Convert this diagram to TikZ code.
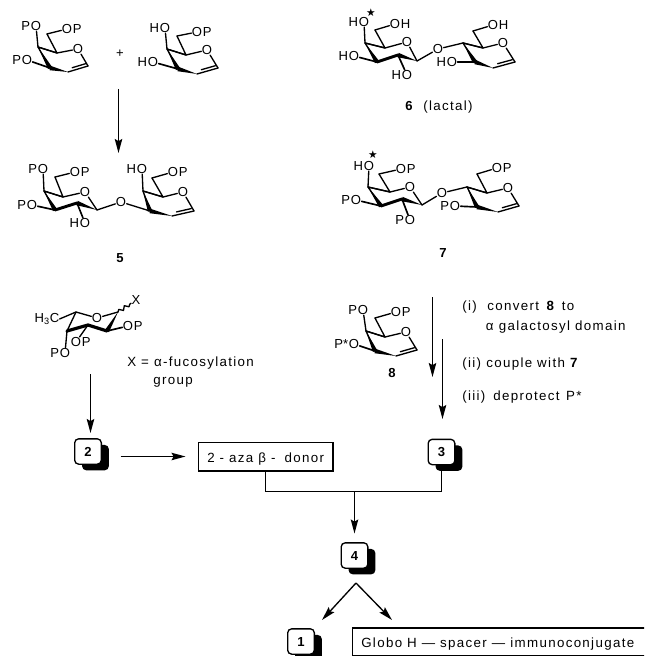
\documentclass[tikz,border=0pt]{standalone}
\usepackage{fontspec}
\setmainfont{Liberation Sans}
\newfontfamily\lsfont[LetterSpace=10]{Liberation Sans}
\newfontfamily\djfont{DejaVu Sans}
\usetikzlibrary{calc,arrows.meta,shadows,decorations.pathmorphing}
\tikzset{
  bond/.style={line width=1pt,line cap=round,line join=round},
  atom/.style={inner sep=0.2pt,font=\fontsize{9.8}{11}\selectfont},
  atomtxt/.style={inner sep=0pt,font=\fontsize{9.8}{11}\selectfont},
  txt/.style={inner sep=0pt,anchor=base west,font=\fontsize{10}{11}\lsfont},
  num/.style={inner sep=0pt,font=\fontsize{9.8}{11}\selectfont\bfseries},
  arr/.style={line width=1pt,-{Stealth[length=10.5pt,width=5.6pt,inset=1.6pt]}},
  line/.style={line width=1pt},
  numbox/.style={draw,fill=white,line width=1pt,rounded corners=3pt,minimum width=20pt,minimum height=19pt,
    inner sep=0pt,font=\fontsize{9.8}{11}\selectfont\bfseries,
    drop shadow={shadow xshift=5.6pt,shadow yshift=-4.6pt,opacity=1,fill=black}},
  box/.style={draw,line width=1pt,inner sep=0pt,anchor=center},
  star/.style={inner sep=0pt,font=\fontsize{8}{8}\djfont}
}
\newcommand{\ringcoords}[8]{%
  \coordinate (#1c4) at (#2);\coordinate (#1c5) at (#3);
  \node[atom] (#1o) at (#4) {O};
  \coordinate (#1c1) at (#5);\coordinate (#1c2) at (#6);
  \coordinate (#1c3) at (#7);\coordinate (#1c6) at (#8);
  \draw[bond] (#1c3) -- (#1c4) -- (#1c5) -- (#1o) -- (#1c1);
  \draw[bond] (#1c4) -- (#1c5) -- (#1c6);
}
\newcommand{\wdg}[2]{\fill[line join=round] (#1) -- ($(#2)!1.7pt!90:(#1)$) -- ($(#2)!1.7pt!-90:(#1)$) -- cycle;}
% name prefix, c4,c5,o,c1,c2,c3,c6 : dihydropyran ring with a double bond
\newcommand{\glycal}[8]{%
  \ringcoords{#1}{#2}{#3}{#4}{#5}{#6}{#7}{#8}
  \wdg{#1c4}{#1c3}\wdg{#1c2}{#1c3}
  \draw[bond] (#1c2) -- (#1c1);
  \draw[bond] ($(#1c2)!.18!(#1c1)+(0.6,-3.2)$) -- ($(#1c2)!.85!(#1c1)+(0.6,-3.2)$);
}
% saturated ring
\newcommand{\pyran}[8]{%
  \ringcoords{#1}{#2}{#3}{#4}{#5}{#6}{#7}{#8}
  \wdg{#1c4}{#1c3}\wdg{#1c1}{#1c2}
  \draw[line width=2.2pt,line cap=round] (#1c3) -- (#1c2);
}
% O atom at a position, with text on its left and on its right
\newcommand{\oat}[4]{%
  \node[atom] (#1) at (#2) {O};
  \node[atomtxt,anchor=base east] at (#1.base west) {#3};
  \node[atomtxt,anchor=base west] at (#1.base east) {#4};
}
\begin{document}
\begin{tikzpicture}[x=0.75pt,y=-0.75pt]
\useasboundingbox (0,0) rectangle (644,656);
\clip (0,0) rectangle (644,656);

% ---- molecule top left 1
\glycal{a}{38,47}{57,53}{78,49}{88,66}{68,72}{50,68}{47,34}
\oat{a1}{36,26}{P}{}\oat{a2}{27,60}{P}{}\oat{a3}{67,29}{}{P}
\draw[bond] (ac4)--(a1); \draw[bond,line width=1.25pt] (ac3)--(a2); \draw[bond] (ac6)--(a3);
\node[atom] (plus) at (120,54) {+};
% ---- molecule top left 2
\glycal{b}{167,49}{186,55}{207,50}{218,68}{197,74}{178,69}{177,36}
\oat{b1}{165,28}{H}{}\oat{b2}{153,62}{H}{}\oat{b3}{197,32}{}{P}
\draw[bond] (bc4)--(b1); \draw[bond,line width=1.25pt] (bc3)--(b2); \draw[bond] (bc6)--(b3);

\coordinate (s1) at (118.5,89); \coordinate (e1) at (118.5,153);
\draw[arr] (s1) -- (e1);

% ---- 5
\pyran{c}{44,191}{63,197}{85,192}{97,210}{77,203}{55,210}{55,177}
\oat{c1}{43,169}{P}{}\oat{c2}{32,205}{P}{}\oat{c3}{75,172}{}{P}\oat{c4}{85,223}{H}{}
\draw[bond] (cc4)--(c1); \draw[bond,line width=1.25pt] (cc3)--(c2); \draw[bond] (cc6)--(c3); \draw[bond,line width=1.25pt] (cc2)--(c4);
\node[atom] (cb) at (121,202) {O};
\glycal{d}{143,191}{163,197}{183,192}{194,211}{172,216}{150,211}{152,178}
\oat{d1}{142,169}{H}{}\oat{d3}{173,172}{}{P}
\draw[bond] (dc4)--(d1); \draw[bond] (dc6)--(d3);
\draw[bond] (cc1)--(cb); \draw[bond] (cb)--(dc3);
\node[num] (l5) at (120,258) {5};

% ---- 6
\pyran{e}{365,43}{385,48}{407,42}{417,61}{398,55}{377,62}{375,30}
\oat{e1}{364,22}{H}{}\oat{e2}{354,56}{H}{}\oat{e3}{395,24}{}{H}\oat{e4}{407,75}{H}{}
\node[star] (es) at (371,13) {★};
\draw[bond] (ec4)--(e1); \draw[bond,line width=1.25pt] (ec3)--(e2); \draw[bond] (ec6)--(e3); \draw[bond,line width=1.25pt] (ec2)--(e4);
\node[atom] (eb) at (438,49) {O};
\glycal{f}{463,43}{483,48}{503,43}{515,62}{493,68}{475,62}{473,31}
\oat{f2}{452,62}{H}{}\oat{f3}{493,25}{}{H}
\draw[bond,line width=1.25pt] (fc3)--(f2); \draw[bond] (fc6)--(f3);
\draw[bond] (ec1)--(eb); \draw[bond] (eb)--(fc4);
\node[txt,font=\fontsize{9.8}{11}\selectfont\bfseries] (l6) at (405,111) {6};
\node[txt] (l6b) at (423,111) {(lactal)};

% ---- 7
\pyran{g}{368,187}{390,192}{410,187}{422,205}{402,199}{381,206}{379,174}
\oat{g1}{369,166}{H}{}\oat{g2}{356,200}{P}{}\oat{g3}{401,169}{}{P}\oat{g4}{410,220}{P}{}
\node[star] (gs) at (373,155) {★};
\draw[bond] (gc4)--(g1); \draw[bond,line width=1.25pt] (gc3)--(g2); \draw[bond] (gc6)--(g3); \draw[bond,line width=1.25pt] (gc2)--(g4);
\node[atom] (gb) at (442,193) {O};
\glycal{h}{467,187}{487,193}{508,188}{519,206}{498,212}{477,207}{477,174}
\oat{h2}{455,206}{P}{}\oat{h3}{497,168}{}{P}
\draw[bond,line width=1.25pt] (hc3)--(h2); \draw[bond] (hc6)--(h3);
\draw[bond] (gc1)--(gb); \draw[bond] (gb)--(hc4);
\node[num] (l7) at (443,253) {7};

% ---- 8
\glycal{i}{366,331}{385,337}{406,332}{417,350}{396,356}{375,351}{375,318}
\oat{i1}{363,310}{P}{}\oat{i2}{354,344}{P*}{}\oat{i3}{396,312}{}{P}
\draw[bond] (ic4)--(i1); \draw[bond,line width=1.25pt] (ic3)--(i2); \draw[bond] (ic6)--(i3);
\node[num] (l8) at (392,373) {8};

% ---- fucose
\coordinate (jc5) at (76,312); \node[atom] (jo) at (97,318) {O};
\coordinate (jc1) at (118,312); \coordinate (jc2) at (107,331);
\coordinate (jc3) at (88,325); \coordinate (jc4) at (67,331);
\node[atomtxt] (jme) at (47,319) {H\textsubscript{3}C};
\draw[bond] (jme.east)--(jc5)--(jo)--(jc1); \draw[bond] (jc5)--(jc4);
\wdg{jc1}{jc2}
\draw[line width=2.4pt,line cap=round] (jc4)--(jc3)--(jc2);
\oat{j1}{128,326}{}{P}\oat{j2}{76,342}{}{P}\oat{j3}{65,353}{P}{}
\draw[bond,line width=1.25pt] (jc2)--(j1); \draw[bond] (jc3)--(j2); \draw[bond] (jc4)--(j3);
\node[atom] (jx) at (136,300) {X};
\draw[bond,decorate,decoration={snake,amplitude=1.3pt,segment length=5pt}] (jc1)--(jx);
\node[txt] (tx) at (127,366) {X = α-fucosylation};
\node[txt] (tg) at (153,384) {group};

% ---- lower scheme
\coordinate (s2) at (90.5,374); \coordinate (e2) at (90.5,433);
\draw[arr] (s2) -- (e2);
\coordinate (s3) at (432.5,297); \coordinate (e3) at (432.5,377);
\draw[arr] (s3) -- (e3);
\coordinate (s4) at (442.5,339); \coordinate (e4) at (442.5,419);
\draw[arr] (s4) -- (e4);

\node[txt] (r1a) at (462,310) {(i)};
\node[txt] (r1b) at (487,310) {convert\hspace{2pt} {\bfseries 8}\hspace{2pt} to};
\node[txt] (r1c) at (485.5,330) {α\hspace{4pt}galactosyl domain};
\node[txt] (r2a) at (462,367) {(ii)};
\node[txt] (r2b) at (486,367) {couple with {\bfseries 7}};
\node[txt] (r3a) at (462,400) {(iii)};
\node[txt] (r3b) at (493,400) {deprotect\hspace{5pt}P*};

\node[box,minimum width=101pt,minimum height=21.5pt] (aza) at (265.5,456.5) {};
\node[txt] (azat) at (207,462) {2 - aza β -\hspace{3pt} donor};

\coordinate (bj) at (354.5,491.5);
\node[numbox] (n3) at (441.5,452) {3};
\draw[line] (aza.south) |- (bj) -| (n3.south);
\node[numbox] (n2) at (88,451.5) {2};
\draw[arr,shorten <=14pt,shorten >=9pt] (n2.east |- aza.west) -- (aza.west);
\node[numbox] (n4) at (354.5,555.5) {4};
\draw[arr,shorten >=6.5pt] (bj) -- (n4.north);

\coordinate (sp) at (356,583); \coordinate (t1) at (322,620); \coordinate (t2) at (392,620);
\draw[arr] (sp) -- (t1);
\draw[arr] (sp) -- (t2);
\node[numbox] (n1) at (301,641.5) {1};
\node[box,minimum width=230pt,minimum height=21pt] (globo) at (505.5,642) {};
\node[txt] (globot) at (361,647) {Globo H — spacer — immunoconjugate};
\end{tikzpicture}
\end{document}
